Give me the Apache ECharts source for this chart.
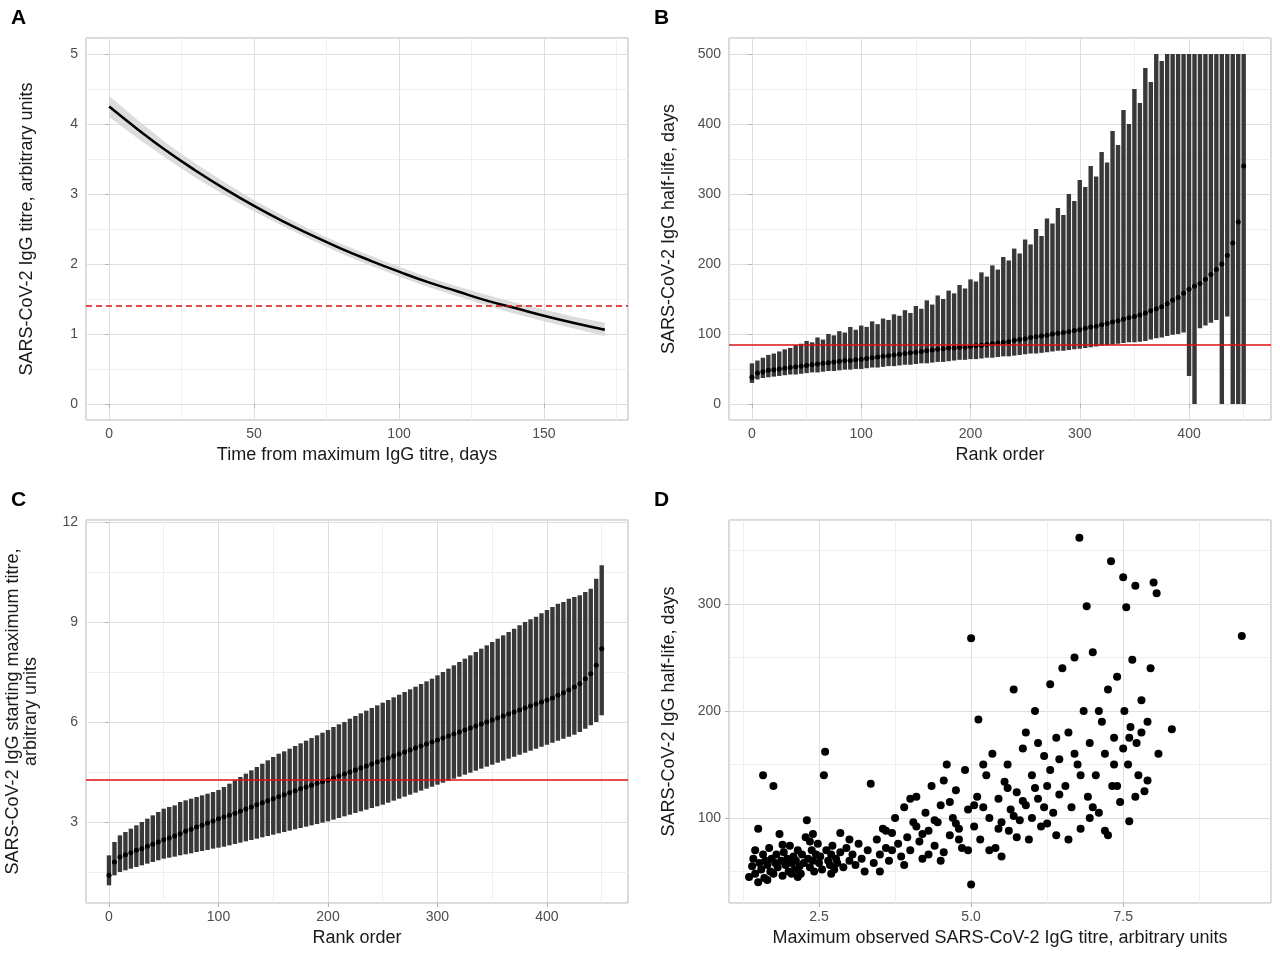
<!DOCTYPE html>
<html><head><meta charset="utf-8">
<script src="https://cdn.jsdelivr.net/npm/echarts@6/dist/echarts.min.js"></script>
<style>html,body{margin:0;padding:0;background:#fff}#c{width:1280px;height:956px}</style>
</head><body><div id="c"></div>
<script>
// Panel A
const aDays = [0,10,20,30,40,50,60,70,80,90,100,110,120,130,140,150,160,171];
const aEst  = [4.25,3.92,3.61,3.33,3.07,2.83,2.61,2.41,2.22,2.05,1.89,1.74,1.61,1.48,1.37,1.26,1.16,1.06];
const aLo   = [4.10,3.79,3.50,3.23,2.98,2.75,2.54,2.34,2.15,1.98,1.82,1.67,1.54,1.41,1.29,1.18,1.08,0.97];
const aHi   = [4.40,4.05,3.72,3.43,3.16,2.91,2.69,2.48,2.29,2.12,1.96,1.81,1.68,1.56,1.45,1.35,1.25,1.16];
const aThreshold = 1.4;
// Panel B (rank step 5)
const bEst = [38,44,46,48,49,50,51,52,53,54,55,56,57,58,59,60,61,62,62,63,64,
65,66,67,68,69,70,71,72,73,74,75,76,77,78,79,80,80,81,81,82,
83,84,85,86,87,88,89,91,92,93,95,96,97,98,100,101,102,103,105,106,
108,110,111,113,115,117,119,121,123,125,127,130,133,136,139,143,148,152,158,164,
168,172,178,185,192,200,212,230,260,340];
const bLo = [30,35,37,38,39,40,41,42,42,43,44,
45,45,46,47,47,48,49,49,50,50,
51,52,52,53,54,54,55,56,56,57,
58,58,59,60,60,61,62,63,63,64,
64,65,66,66,67,68,68,69,70,71,
72,72,73,74,75,76,76,77,78,79,
80,81,82,83,84,85,86,87,88,88,
89,90,92,94,95,97,99,100,102,40,
0,108,112,116,120,0,125,0,0,0];
const bHi = [58,62,66,70,72,75,78,80,84,86,90,
88,95,92,100,98,104,102,110,106,112,
110,118,114,122,120,128,126,134,130,140,
136,148,142,155,150,162,158,170,165,178,
175,188,182,198,192,210,205,222,215,235,
228,250,240,265,258,280,270,300,290,320,
310,340,325,360,345,390,370,420,400,450,
430,480,460,500,490,500,500,500,500,500,
500,500,500,500,500,500,500,500,500,500];
const bThreshold = 85;
// Panel C (rank step 5)
const cEst = [1.4,1.8,1.95,2.02,2.08,2.15,2.2,2.27,2.33,2.4,2.47,
2.52,2.58,2.65,2.72,2.78,2.85,2.9,2.97,3.03,3.1,
3.15,3.2,3.26,3.32,3.39,3.45,3.52,3.58,3.64,3.7,
3.76,3.82,3.88,3.94,4.0,4.05,4.1,4.16,4.21,4.26,
4.32,4.38,4.44,4.5,4.56,4.62,4.68,4.74,4.8,4.86,
4.92,4.98,5.04,5.1,5.16,5.22,5.28,5.34,5.4,5.46,
5.52,5.58,5.64,5.7,5.76,5.82,5.88,5.94,6.0,6.06,
6.12,6.18,6.24,6.3,6.36,6.42,6.48,6.54,6.6,6.66,
6.72,6.8,6.88,6.96,7.05,7.15,7.3,7.45,7.7,8.2];
const cHi = [2.0,2.4,2.6,2.7,2.8,2.9,3.0,3.1,3.2,3.3,3.4,
3.45,3.5,3.6,3.65,3.7,3.75,3.8,3.85,3.9,3.96,
4.05,4.15,4.25,4.35,4.45,4.55,4.65,4.75,4.85,4.95,
5.05,5.12,5.2,5.28,5.36,5.44,5.52,5.6,5.68,5.76,
5.85,5.93,6.0,6.1,6.18,6.26,6.34,6.42,6.5,6.58,
6.66,6.74,6.82,6.9,6.98,7.06,7.14,7.22,7.3,7.4,
7.5,7.6,7.7,7.8,7.9,8.0,8.1,8.2,8.3,8.4,
8.5,8.6,8.7,8.8,8.9,9.0,9.08,9.16,9.26,9.36,
9.45,9.55,9.6,9.7,9.75,9.8,9.9,10.0,10.3,10.7];
const cLo = [1.1,1.4,1.5,1.55,1.6,1.65,1.7,1.75,1.8,1.85,1.9,
1.93,1.96,2.0,2.03,2.06,2.1,2.13,2.16,2.2,2.23,
2.26,2.3,2.34,2.38,2.42,2.46,2.5,2.54,2.58,2.62,
2.66,2.7,2.74,2.78,2.82,2.86,2.9,2.94,2.98,3.02,
3.07,3.12,3.17,3.22,3.27,3.32,3.37,3.42,3.47,3.52,
3.58,3.64,3.7,3.76,3.82,3.88,3.94,4.0,4.06,4.12,
4.18,4.24,4.3,4.36,4.42,4.48,4.54,4.6,4.66,4.72,
4.78,4.84,4.9,4.96,5.02,5.08,5.14,5.2,5.26,5.32,
5.38,5.44,5.5,5.56,5.62,5.7,5.8,5.9,6.0,6.2];
const cThreshold = 4.26;
// Panel D
const dPoints = [
[1.35,45],[1.4,55],[1.42,62],[1.45,48],[1.5,90],[1.52,58],[1.55,52],[1.58,66],[1.6,44],[1.62,60],[1.65,56],[1.68,72],[1.7,50],[1.72,62],[1.75,48],[1.78,58],[1.8,66],[1.82,54],[1.85,85],[1.88,60],[1.9,46],[1.92,68],[1.95,56],[1.98,62],[2.0,50],[2.02,74],[2.05,58],[2.08,64],[2.1,52],[2.12,60],[2.15,70],[2.18,55],[2.2,48],[2.22,66],[2.25,58],[2.28,82],[2.3,98],[2.32,62],[2.35,54],[2.38,70],[2.4,60],[2.42,50],[2.45,66],[2.48,76],[2.5,58],[2.52,64],[2.55,52],[2.58,140],[2.6,162],[2.62,70],[2.65,60],[2.68,56],[2.7,66],[2.72,74],[2.75,52],[2.78,62],[2.8,58],[2.85,68],[2.9,54],[2.95,72],[3.0,60],[3.05,66],[3.1,56],[3.15,76],[3.2,62],[3.25,50],[1.58,140],[1.75,130],[1.5,40],[1.65,42],[1.9,75],[2.15,45],[2.4,85],[2.7,48],[3.0,80],[1.45,70],[2.05,48],[2.35,78],[2.85,86],[3.3,70],
[3.35,132],[3.4,58],[3.45,80],[3.5,66],[3.55,90],[3.6,72],[3.65,60],[3.7,86],[3.75,100],[3.8,76],[3.85,64],[3.9,110],[3.95,82],[4.0,70],[4.05,96],[4.1,120],[4.15,78],[4.2,62],[4.25,105],[4.3,88],[4.35,130],[4.4,74],[4.45,96],[4.5,112],[4.55,68],[4.6,150],[4.65,84],[4.7,100],[4.75,126],[4.8,90],[4.85,72],[4.9,145],[4.95,108],[5.0,38],[5.0,268],[3.5,50],[3.9,56],[4.2,85],[4.5,60],[4.8,80],[4.4,98],[4.0,118],[3.7,70],[4.65,115],[4.95,70],[4.3,66],[4.75,95],[3.6,88],[4.1,92],[4.55,135],
[5.05,92],[5.1,120],[5.12,192],[5.15,80],[5.2,110],[5.25,140],[5.3,100],[5.35,160],[5.4,72],[5.45,118],[5.5,96],[5.55,134],[5.6,150],[5.62,88],[5.65,108],[5.7,220],[5.75,124],[5.8,98],[5.85,165],[5.9,112],[5.95,80],[6.0,140],[6.05,200],[6.1,118],[6.15,92],[6.2,158],[6.25,130],[6.3,225],[6.35,105],[6.4,175],[6.45,122],[6.5,240],[5.3,70],[5.5,64],[5.75,82],[6.0,100],[6.2,110],[6.4,84],[5.2,150],[5.6,128],[5.9,180],[6.3,145],[6.1,170],[5.45,90],[5.85,116],[6.45,155],[5.05,112],[5.7,102],[6.25,95],[6.05,128],
[6.55,130],[6.6,180],[6.65,110],[6.7,250],[6.75,150],[6.78,362],[6.8,90],[6.85,200],[6.9,298],[6.92,120],[6.95,170],[7.0,255],[7.05,140],[7.1,105],[7.15,190],[7.2,160],[7.25,220],[7.3,340],[7.32,130],[7.35,175],[7.4,232],[7.45,115],[7.5,325],[7.52,200],[7.55,297],[7.58,150],[7.6,97],[7.62,185],[7.65,248],[7.7,317],[7.72,170],[7.75,140],[7.8,210],[7.85,125],[7.9,190],[7.95,240],[8.0,320],[8.05,310],[8.08,160],[8.3,183],[9.45,270],[6.6,80],[6.8,140],[7.0,110],[7.2,88],[7.4,130],[7.7,120],[7.9,135],[6.7,160],[7.1,200],[7.35,150],[7.6,175],[7.25,84],[6.95,100],[7.5,165],[7.8,180]];

const RANK_STEP = 5;
const bData = bEst.map((v,i)=>[i*RANK_STEP, bLo[i], bHi[i], v]);
const cData = cEst.map((v,i)=>[i*RANK_STEP, cLo[i], cHi[i], v]);
const aBand = aDays.map((d,i)=>[d, aLo[i], aHi[i]]);

const FONT = 'Liberation Sans, Arial, sans-serif';
function xAx(grid, min, max, iv, name, fmt){
  return {type:'value', gridIndex:grid, min, max, minInterval:iv, maxInterval:iv,
    name, nameLocation:'middle', nameGap:26, nameTextStyle:{fontSize:18,color:'#1a1a1a',fontFamily:FONT},
    axisLine:{show:false}, axisTick:{show:true,length:4,lineStyle:{color:'#b3b3b3'}},
    axisLabel:{color:'#4d4d4d',fontSize:14,fontFamily:FONT,margin:7,showMinLabel:false,showMaxLabel:false,formatter:fmt},
    splitLine:{show:true,lineStyle:{color:'#dedede',width:1}},
    minorTick:{show:false,splitNumber:2}, minorSplitLine:{show:true,lineStyle:{color:'#efefef',width:1}}};
}
function yAx(grid, min, max, iv, name, gap){
  const a = xAx(grid,min,max,iv,name);
  a.nameGap = gap; a.nameRotate = 90;
  a.axisLabel.margin = 8;
  return a;
}
function errRender(params, api){
  const x=api.value(0), lo=api.value(1), hi=api.value(2);
  const p1=api.coord([x,lo]), p2=api.coord([x,hi]);
  return {type:'line', shape:{x1:p1[0],y1:p1[1],x2:p2[0],y2:p2[1]}, style:{stroke:'#383838',lineWidth:4.4}};
}
function bandRender(params, api){
  if(params.dataIndex!==0) return;
  const pts=[];
  aBand.forEach(r=>pts.push(api.coord([r[0],r[2]])));
  for(let i=aBand.length-1;i>=0;i--) pts.push(api.coord([aBand[i][0],aBand[i][1]]));
  return {type:'polygon', shape:{points:pts}, style:{fill:'#d6d6d6',opacity:0.85}};
}
function hline(v, dashed){
  return {silent:true, symbol:'none', label:{show:false},
    lineStyle:{color:'#dd1111',width:1.6,type:dashed?[6,4]:'solid'}, data:[{yAxis:v}]};
}
const grids=[
 {left:86,top:38,width:542,height:382},
 {left:729,top:38,width:542,height:382},
 {left:86,top:520,width:542,height:383},
 {left:729,top:520,width:542,height:383}
].map(g=>Object.assign(g,{show:true,borderColor:'#b3b3b3',borderWidth:1,backgroundColor:'#fff',containLabel:false}));

const option={
 animation:false,
 textStyle:{fontFamily:FONT},
 grid:grids,
 title:[
  {text:'A',left:6,top:3,textStyle:{fontSize:21,fontWeight:'bold',color:'#000'}},
  {text:'B',left:649,top:3,textStyle:{fontSize:21,fontWeight:'bold',color:'#000'}},
  {text:'C',left:6,top:485,textStyle:{fontSize:21,fontWeight:'bold',color:'#000'}},
  {text:'D',left:649,top:485,textStyle:{fontSize:21,fontWeight:'bold',color:'#000'}}
 ],
 xAxis:[
  xAx(0,-8,179,50,'Time from maximum IgG titre, days'),
  xAx(1,-21,475,100,'Rank order'),
  xAx(2,-21,474,100,'Rank order'),
  xAx(3,1.02,9.93,2.5,'Maximum observed SARS-CoV-2 IgG titre, arbitrary units',v=>v.toFixed(1))
 ],
 yAxis:[
  yAx(0,-0.23,5.23,1,'SARS-CoV-2 IgG titre, arbitrary units',50),
  yAx(1,-23,523,100,'SARS-CoV-2 IgG half-life, days',51),
  yAx(2,0.57,12.06,3,'SARS-CoV-2 IgG starting maximum titre,\narbitrary units',46),
  yAx(3,20.6,378.5,100,'SARS-CoV-2 IgG half-life, days',51)
 ],
 series:[
  {type:'custom',xAxisIndex:0,yAxisIndex:0,data:[[0,aLo[0],aHi[0]]],encode:{x:0,y:[1,2]},renderItem:bandRender,silent:true,z:1},
  {type:'line',xAxisIndex:0,yAxisIndex:0,data:aDays.map((d,i)=>[d,aEst[i]]),smooth:true,showSymbol:false,
   lineStyle:{color:'#000',width:2.5},z:3,markLine:hline(aThreshold,true)},
  {type:'custom',xAxisIndex:1,yAxisIndex:1,data:bData,encode:{x:0,y:[1,2]},renderItem:errRender,clip:true,silent:true},
  {type:'scatter',xAxisIndex:1,yAxisIndex:1,data:bData.map(r=>[r[0],r[3]]),symbolSize:5,itemStyle:{color:'#000',opacity:1},
   markLine:hline(bThreshold,false),z:3},
  {type:'custom',xAxisIndex:2,yAxisIndex:2,data:cData,encode:{x:0,y:[1,2]},renderItem:errRender,clip:true,silent:true},
  {type:'scatter',xAxisIndex:2,yAxisIndex:2,data:cData.map(r=>[r[0],r[3]]),symbolSize:5,itemStyle:{color:'#000',opacity:1},
   markLine:hline(cThreshold,false),z:3},
  {type:'scatter',xAxisIndex:3,yAxisIndex:3,data:dPoints,symbolSize:8,itemStyle:{color:'#000',opacity:1}}
 ]
};
echarts.init(document.getElementById('c'),null,{renderer:'canvas'}).setOption(option);
</script></body></html>
